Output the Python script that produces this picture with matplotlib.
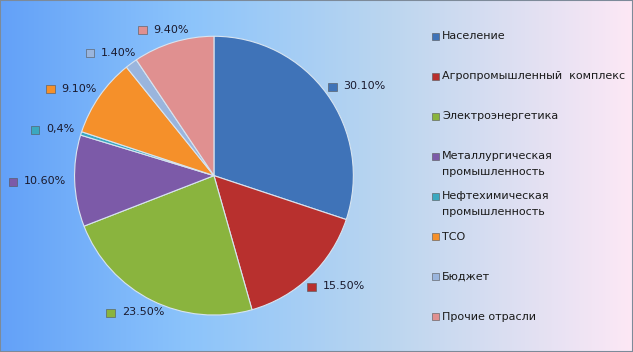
import numpy as np
import matplotlib.pyplot as plt
from matplotlib.colors import LinearSegmentedColormap
from matplotlib.patches import Rectangle
from matplotlib.offsetbox import AnnotationBbox, DrawingArea, HPacker, TextArea

plt.rcParams['font.family'] = ['DejaVu Sans']

# данные
categories = ["Население", "Агропромышленный  комплекс", "Электроэнергетика",
              "Металлургическая\nпромышленность", "Нефтехимическая\nпромышленность",
              "ТСО", "Бюджет", "Прочие отрасли"]
shares = [30.1, 15.5, 23.5, 10.6, 0.4, 9.1, 1.4, 9.4]
pct_labels = ["30.10%", "15.50%", "23.50%", "10.60%", "0,4%", "9.10%", "1.40%", "9.40%"]
colors = ["#3f73b8", "#b8302e", "#8ab43e", "#7c5aa8", "#3aa8c0",
          "#f5902a", "#9ab5dd", "#e09090"]

W, H = 633, 352
fig = plt.figure(figsize=(W / 100, H / 100), dpi=100)

# фон с градиентом
bg = fig.add_axes([0, 0, 1, 1], zorder=-1)
cmap = LinearSegmentedColormap.from_list(
    "bg", [(0, "#63a1f8"), (0.3, "#8cc4fb"), (0.62, "#bcd6ef"), (1, "#fde8f5")])
bg.imshow(np.linspace(0, 1, 256)[None, :], aspect="auto", cmap=cmap,
          extent=[0, 1, 0, 1])
bg.set_axis_off()
fig.patches.append(Rectangle((0, 0), 1, 1, transform=fig.transFigure,
                             fill=False, edgecolor="#7d8a99", linewidth=1.5))

ax = fig.add_axes([0.115, 0.105, 0.446, 0.792])
ax.set_facecolor("none")
wedges, _ = ax.pie(shares, colors=colors, startangle=90, counterclock=False,
                   wedgeprops=dict(edgecolor="#d8e4f0", linewidth=0.8))
ax.set_aspect("equal")
ax.set_xlim(-1, 1)
ax.set_ylim(-1, 1)

# подписи долей с цветным маркером (снаружи, ближним углом к кругу)
for w, txt, col in zip(wedges, pct_labels, colors):
    ang = np.deg2rad((w.theta1 + w.theta2) / 2)
    c, s = np.cos(ang), np.sin(ang)
    da = DrawingArea(7, 7)
    da.add_artist(Rectangle((0, 0), 6, 6, facecolor=col, edgecolor="#555555",
                            linewidth=0.4))
    ta = TextArea(txt, textprops=dict(fontsize=8, color="#1a1a2e"))
    box = HPacker(children=[da, ta], align="center", pad=0, sep=4)
    ab = AnnotationBbox(box, (1.06 * c, 1.06 * s), frameon=False,
                        box_alignment=(0.5 - 0.5 * c, 0.5 - 0.5 * s),
                        annotation_clip=False)
    ax.add_artist(ab)

# легенда: шаг строк как в Excel, маркер по первой строке
x0, y0, step = 432, 36, 40.1
for i, (lab, col) in enumerate(zip(categories, colors)):
    yc = y0 + i * step
    fig.patches.append(Rectangle(((x0) / W, 1 - (yc + 3.5) / H), 7 / W, 7 / H,
                                 transform=fig.transFigure, facecolor=col,
                                 edgecolor="#555555", linewidth=0.4))
    fig.text((x0 + 10) / W, 1 - (yc - 5) / H, lab, fontsize=8, color="#1a1a1a",
             va="top", ha="left", linespacing=1.75)

fig.savefig("out.png", dpi=100)
